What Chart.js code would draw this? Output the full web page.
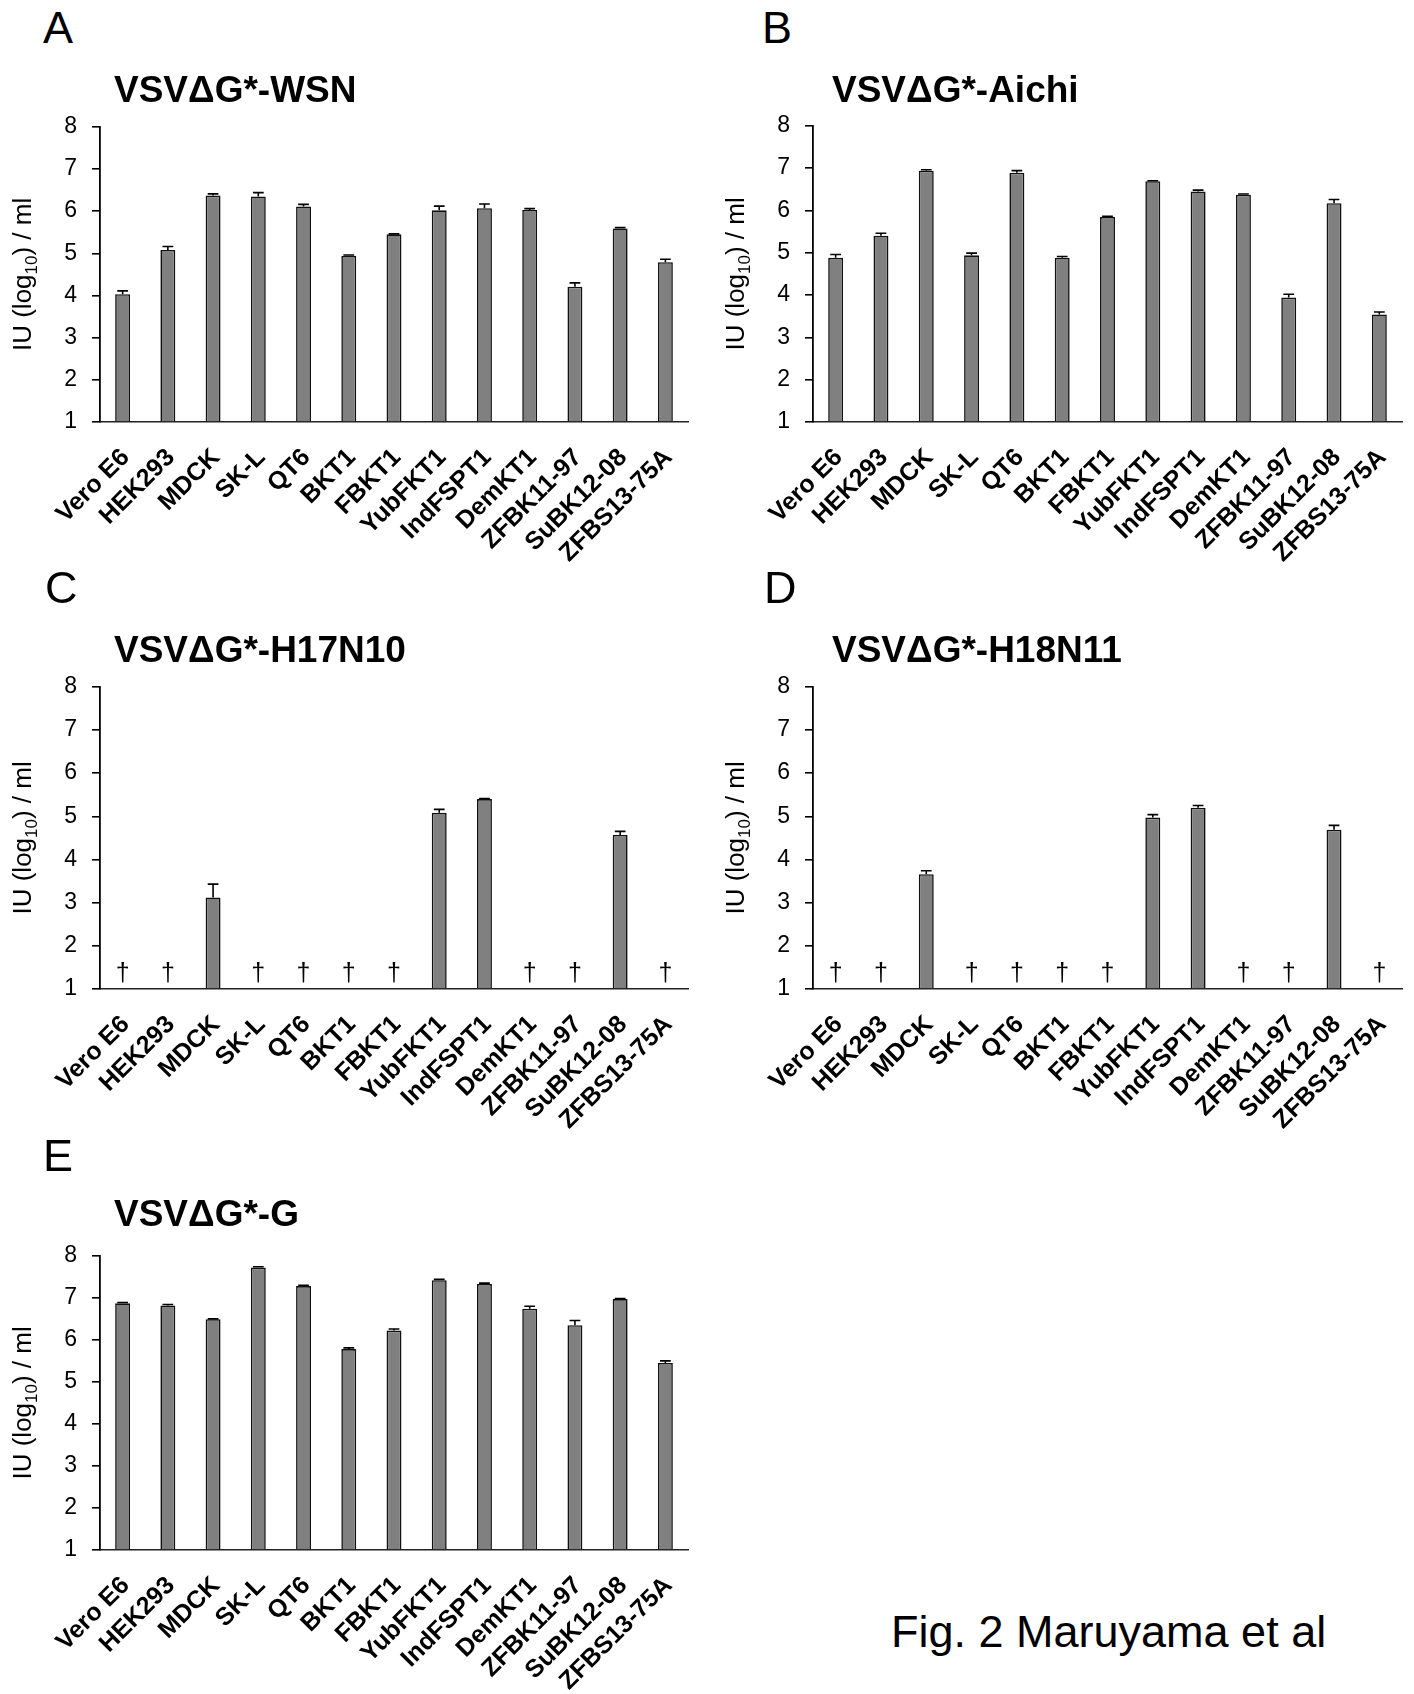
<!DOCTYPE html>
<html>
<head>
<meta charset="utf-8">
<script src="https://cdn.jsdelivr.net/npm/chart.js@4.4.0/dist/chart.umd.min.js"></script>
<style>
  html, body { margin: 0; padding: 0; background: #fff; }
  #wrap { position: relative; width: 1414px; height: 1694px; background: #fff; overflow: hidden; }
  canvas { position: absolute; }
  .txt { position: absolute; font-family: 'Liberation Sans', Arial, sans-serif; color: #000; line-height: 1; white-space: nowrap; }
  .letter { font-size: 45px; }
  .title { font-size: 37px; font-weight: bold; }
  .fig { font-size: 45px; }
</style>
</head>
<body>
<div id="wrap">
  <canvas id="cA" width="700" height="474" style="left:0px;top:98px"></canvas>
  <canvas id="cB" width="700" height="475" style="left:713px;top:97px"></canvas>
  <canvas id="cC" width="700" height="481" style="left:0px;top:658px"></canvas>
  <canvas id="cD" width="700" height="481" style="left:713px;top:658px"></canvas>
  <canvas id="cE" width="700" height="473" style="left:0px;top:1227px"></canvas>

  <div class="txt letter" style="left:43px;top:5px">A</div>
  <div class="txt letter" style="left:762px;top:5px">B</div>
  <div class="txt letter" style="left:45px;top:565px">C</div>
  <div class="txt letter" style="left:764px;top:565px">D</div>
  <div class="txt letter" style="left:43px;top:1133px">E</div>

  <div class="txt title" style="left:114px;top:71px">VSVΔG*-WSN</div>
  <div class="txt title" style="left:832px;top:71px">VSVΔG*-Aichi</div>
  <div class="txt title" style="left:114px;top:631px">VSVΔG*-H17N10</div>
  <div class="txt title" style="left:832px;top:631px">VSVΔG*-H18N11</div>
  <div class="txt title" style="left:114px;top:1195px">VSVΔG*-G</div>

  <div class="txt fig" style="left:891px;top:1609px">Fig. 2 Maruyama et al</div>
</div>
<script>
// ---------------- DATA ----------------
const categories = ['Vero E6','HEK293','MDCK','SK-L','QT6','BKT1','FBKT1','YubFKT1','IndFSPT1','DemKT1','ZFBK11-97','SuBK12-08','ZFBS13-75A'];
const yTicks = [1,2,3,4,5,6,7,8];
const yTitleParts = ['IU (log', '10', ') / ml'];

const wsnValues = [4.03,5.08,6.37,6.35,6.11,4.94,5.45,6.02,6.07,6.03,4.21,5.59,4.79];
const wsnErrors = [0.08,0.08,0.04,0.09,0.05,0.02,0.01,0.10,0.10,0.03,0.09,0.02,0.07];

const aichiValues = [4.88,5.40,6.94,4.94,6.89,4.88,5.85,6.69,6.45,6.37,3.94,6.17,3.54];
const aichiErrors = [0.08,0.06,0.02,0.05,0.05,0.03,0.01,0.01,0.03,0.02,0.08,0.09,0.06];

const h17n10Values = [null,null,3.12,null,null,null,null,5.08,5.40,null,null,4.57,null];
const h17n10Errors = [null,null,0.31,null,null,null,null,0.08,0.01,null,null,0.08,null];

const h18n11Values = [null,null,3.66,null,null,null,null,4.97,5.20,null,null,4.69,null];
const h18n11Errors = [null,null,0.08,null,null,null,null,0.07,0.05,null,null,0.10,null];

const gValues = [6.87,6.82,6.49,7.72,7.28,5.78,6.22,7.42,7.33,6.74,6.35,6.97,5.45];
const gErrors = [0.02,0.02,0.01,0.02,0.02,0.03,0.04,0.02,0.02,0.06,0.11,0.01,0.05];

const notDetectedMark = '†';

// ---------------- PLUGINS ----------------
const FONT = "'Liberation Sans', Arial, sans-serif";

const errorBarPlugin = {
  id: 'errorBarPlugin',
  afterDatasetsDraw(chart) {
    const ctx = chart.ctx;
    const ys = chart.scales.y;
    chart.data.datasets.forEach((ds, di) => {
      const meta = chart.getDatasetMeta(di);
      const errs = ds.errors || [];
      meta.data.forEach((el, i) => {
        const v = ds.data[i];
        const e = errs[i];
        if (v == null || e == null) return;
        const yTop = ys.getPixelForValue(v + e);
        const half = el.width * 0.36;
        ctx.save();
        ctx.strokeStyle = '#000';
        ctx.lineWidth = 1.6;
        ctx.beginPath();
        ctx.moveTo(el.x, el.y);
        ctx.lineTo(el.x, yTop);
        ctx.moveTo(el.x - half, yTop);
        ctx.lineTo(el.x + half, yTop);
        ctx.stroke();
        ctx.restore();
      });
    });
  }
};

const daggerPlugin = {
  id: 'daggerPlugin',
  afterDatasetsDraw(chart) {
    const ctx = chart.ctx;
    const xs = chart.scales.x, ys = chart.scales.y;
    const ds = chart.data.datasets[0];
    ctx.save();
    ctx.fillStyle = '#000';
    ctx.font = '25px ' + FONT;
    ctx.textAlign = 'center';
    ctx.textBaseline = 'alphabetic';
    ds.data.forEach((v, i) => {
      if (v == null) {
        ctx.fillText(notDetectedMark, xs.getPixelForValue(i), ys.getPixelForValue(1) - 8);
      }
    });
    ctx.restore();
  }
};

const yTitlePlugin = {
  id: 'yTitlePlugin',
  afterDraw(chart) {
    const ctx = chart.ctx;
    const ca = chart.chartArea;
    const cy = (ca.top + ca.bottom) / 2;
    const big = '26px ' + FONT, small = '17px ' + FONT;
    ctx.save();
    ctx.fillStyle = '#000';
    ctx.font = big; const w1 = ctx.measureText(yTitleParts[0]).width;
    ctx.font = small; const w2 = ctx.measureText(yTitleParts[1]).width;
    ctx.font = big; const w3 = ctx.measureText(yTitleParts[2]).width;
    const total = w1 + w2 + w3;
    ctx.translate(31, cy);
    ctx.rotate(-Math.PI / 2);
    ctx.textBaseline = 'alphabetic';
    ctx.textAlign = 'left';
    let x = -total / 2;
    ctx.font = big; ctx.fillText(yTitleParts[0], x, 0); x += w1;
    ctx.font = small; ctx.fillText(yTitleParts[1], x, 6); x += w2;
    ctx.font = big; ctx.fillText(yTitleParts[2], x, 0);
    ctx.restore();
  }
};

// ---------------- CHART FACTORY ----------------
function makeChart(id, values, errors, rightPad) {
  return new Chart(document.getElementById(id), {
    type: 'bar',
    data: {
      labels: categories,
      datasets: [{
        data: values,
        errors: errors,
        base: yTicks[0],
        backgroundColor: '#808080',
        borderColor: '#111',
        borderWidth: 1.6,
        borderSkipped: 'bottom',
        categoryPercentage: 1.0,
        barPercentage: 0.33
      }]
    },
    options: {
      responsive: false,
      animation: false,
      devicePixelRatio: 1,
      layout: { padding: { top: 20, right: rightPad, left: 0, bottom: 0 } },
      plugins: { legend: { display: false }, tooltip: { enabled: false }, title: { display: false } },
      scales: {
        x: {
          type: 'category',
          offset: true,
          grid: { display: true, drawOnChartArea: false, drawTicks: false },
          border: { display: true, color: '#222', width: 1.5 },
          ticks: {
            autoSkip: false,
            minRotation: 45,
            maxRotation: 45,
            padding: 21,
            labelOffset: 3,
            color: '#000',
            font: { family: FONT, size: 25, weight: 'bold' }
          },
          afterFit(scale) {
            scale.height = 150;
            scale.paddingLeft = 0;
            scale.paddingRight = 0;
          }
        },
        y: {
          min: yTicks[0],
          max: yTicks[yTicks.length - 1],
          afterBuildTicks(scale) { scale.ticks = yTicks.map(v => ({ value: v })); },
          grid: { display: true, drawOnChartArea: false, drawTicks: true, tickLength: 8, color: '#000', lineWidth: 1.6 },
          border: { display: true, color: '#000', width: 1.8 },
          ticks: {
            padding: 15,
            color: '#000',
            font: { family: FONT, size: 23 }
          },
          afterFit(scale) { scale.width = 100; }
        }
      }
    },
    plugins: [errorBarPlugin, daggerPlugin, yTitlePlugin]
  });
}

makeChart('cA', wsnValues, wsnErrors, 12);
makeChart('cB', aichiValues, aichiErrors, 11);
makeChart('cC', h17n10Values, h17n10Errors, 12);
makeChart('cD', h18n11Values, h18n11Errors, 11);
makeChart('cE', gValues, gErrors, 12);
</script>
</body>
</html>
